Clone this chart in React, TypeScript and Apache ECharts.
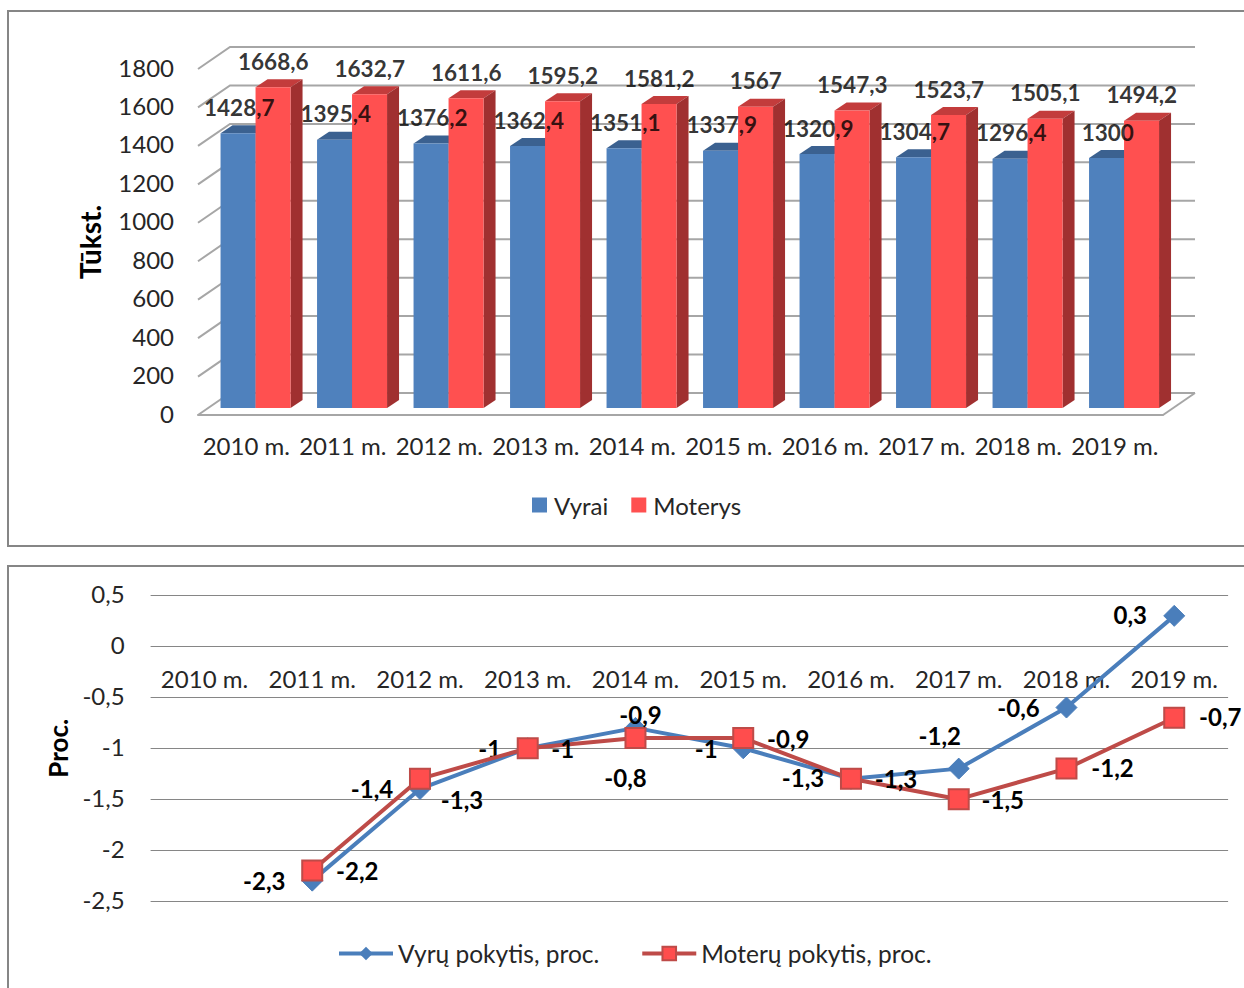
import React, { useEffect, useRef } from "react";
import * as echarts from "echarts";

const years = ["2010 m.", "2011 m.", "2012 m.", "2013 m.", "2014 m.", "2015 m.", "2016 m.", "2017 m.", "2018 m.", "2019 m."];
const vyrai = [1428.7, 1395.4, 1376.2, 1362.4, 1351.1, 1337.9, 1320.9, 1304.7, 1296.4, 1300];
const moterys = [1668.6, 1632.7, 1611.6, 1595.2, 1581.2, 1567, 1547.3, 1523.7, 1505.1, 1494.2];
const wallTicks = [0, 200, 400, 600, 800, 1000, 1200, 1400, 1600, 1800];
const vyruPokytis = [null, -2.3, -1.4, -1, -0.8, -1, -1.3, -1.2, -0.6, 0.3];
const moteruPokytis = [null, -2.2, -1.3, -1, -0.9, -0.9, -1.3, -1.5, -1.2, -0.7];

// label nudges for the lower chart, relative to each point
const vyruOffsets = [[0, 0], [-48, 0], [-48, 0], [-38, 0], [-10, 50], [-37, 0], [-48, -1], [-19, -33], [-48, 0], [-44, -1]];
const moteruOffsets = [[0, 0], [45, 0], [42, 21], [35, 0], [5, -24], [45, 0], [45, 0], [44, 0], [46, -1], [46, -1]];

const FONT = "Lato, Carlito, sans-serif";
const comma = (v: number) => String(v).replace(".", ",");
const DX = 32, DY = 22;          // wall depth
const BAR_W = 35, BX = 12, BY = 8; // bar width and depth
const SHIFT_X = 9.3, SHIFT_Y = 7;  // bars stand slightly behind the front plane
const GRID_C = "#a6a6a6";

function barRenderer(side: "left" | "right", front: string, top: string, right: string) {
  return (params: any, api: any) => {
    const p = api.coord([api.value(0), api.value(1)]);
    const base = api.coord([api.value(0), 0]);
    const x0 = p[0] + SHIFT_X + (side === "left" ? -BAR_W : 0);
    const x1 = x0 + BAR_W;
    const yT = p[1] - SHIFT_Y;
    const yB = base[1] - SHIFT_Y;
    return {
      type: "group",
      children: [
        { type: "polygon", shape: { points: [[x0, yT], [x0 + BX, yT - BY], [x1 + BX, yT - BY], [x1, yT]] }, style: { fill: top } },
        { type: "polygon", shape: { points: [[x1, yT], [x1 + BX, yT - BY], [x1 + BX, yB - BY], [x1, yB]] }, style: { fill: right } },
        { type: "rect", shape: { x: x0, y: yT, width: BAR_W, height: yB - yT }, style: { fill: front } },
      ],
    };
  };
}

export default function App() {
  const ref = useRef<HTMLDivElement>(null);
  useEffect(() => {
    const chart = echarts.init(ref.current!, null, { renderer: "svg" });
    const tick = { color: "#262626", fontFamily: FONT, fontSize: 24 };
    const dataLabel = { color: "#000", fontFamily: FONT, fontSize: 22.5, fontWeight: "bold" as const, textBorderWidth: 0 };
    const pointLabel = { color: "#000", fontFamily: FONT, fontSize: 24, fontWeight: "bold" as const, textBorderWidth: 0 };
    chart.setOption({
      animation: false,
      backgroundColor: "#fff",
      graphic: [
        { type: "rect", shape: { x: 8, y: 11, width: 1300, height: 535 }, style: { fill: "none", stroke: "#868686", lineWidth: 2 } },
        { type: "rect", shape: { x: 8, y: 566, width: 1300, height: 500 }, style: { fill: "none", stroke: "#868686", lineWidth: 2 } },
      ],
      legend: [
        {
          left: 532, top: 493, padding: 0, itemWidth: 15, itemHeight: 15, itemGap: 23, icon: "rect", selectedMode: false,
          data: ["Vyrai", "Moterys"],
          textStyle: { ...tick, padding: [0, 0, 2, 2] },
        },
        {
          left: 337, top: 941, padding: 0, itemWidth: 54, itemHeight: 17, itemGap: 41, selectedMode: false,
          data: ["Vyrų pokytis, proc.", "Moterų pokytis, proc."],
          lineStyle: { width: 4 },
          textStyle: { ...tick, fontSize: 24.5, padding: [0, 0, 2, 0] },
        },
      ],
      grid: [
        { left: 198, top: 69, width: 965, height: 346 },
        { left: 150.6, top: 595.5, width: 1077.5, height: 305.5 },
      ],
      xAxis: [
        {
          gridIndex: 0, type: "category", data: years,
          axisTick: { show: false },
          axisLine: { lineStyle: { color: GRID_C, width: 2 } },
          axisLabel: { ...tick, margin: 18, interval: 0 },
        },
        {
          gridIndex: 1, type: "category", data: years, offset: -257,
          axisTick: { show: false },
          axisLine: { show: false, onZero: false },
          axisLabel: { ...tick, margin: 22, interval: 0 },
        },
      ],
      yAxis: [
        {
          gridIndex: 0, type: "value", min: 0, max: 1800, interval: 200,
          name: "Tūkst.", nameLocation: "middle", nameGap: 94, nameRotate: 90,
          nameTextStyle: { color: "#000", fontFamily: FONT, fontSize: 28, fontWeight: "bold" },
          axisLine: { show: false }, axisTick: { show: false }, splitLine: { show: false },
          axisLabel: { ...tick, margin: 24, verticalAlign: "bottom", lineHeight: 4, formatter: (v: number) => String(v) },
        },
        {
          gridIndex: 1, type: "value", min: -2.5, max: 0.5, interval: 0.5,
          name: "Proc.", nameLocation: "middle", nameGap: 79, nameRotate: 90,
          nameTextStyle: { color: "#000", fontFamily: FONT, fontSize: 26, fontWeight: "bold" },
          axisLine: { show: false }, axisTick: { show: false },
          splitLine: { lineStyle: { color: "#868686", width: 1 } },
          axisLabel: { ...tick, margin: 26, verticalAlign: "bottom", lineHeight: 4, formatter: (v: number) => comma(v) },
        },
      ],
      series: [
        {
          type: "custom", name: "walls", xAxisIndex: 0, yAxisIndex: 0, z: 1, silent: true,
          data: wallTicks.map((t) => [0, t]),
          renderItem: (params: any, api: any) => {
            const cs = params.coordSys;
            const y = api.coord([0, api.value(1)])[1];
            const x0 = cs.x, x1 = cs.x + cs.width;
            const style = { fill: "none", stroke: GRID_C, lineWidth: 2 };
            const children: any[] = [
              { type: "polyline", shape: { points: [[x0, y], [x0 + DX, y - DY], [x1 + DX, y - DY]] }, style },
            ];
            if (api.value(1) === 0) {
              children.push({ type: "line", shape: { x1, y1: y, x2: x1 + DX, y2: y - DY }, style });
            }
            return { type: "group", children };
          },
        },
        {
          type: "custom", name: "Vyrai", xAxisIndex: 0, yAxisIndex: 0, z: 2, silent: true,
          itemStyle: { color: "#4f81bd" },
          data: vyrai.map((v, i) => [i, v]),
          renderItem: barRenderer("left", "#4f81bd", "#3b6190", "#3b6190"),
        },
        {
          type: "custom", name: "Moterys", xAxisIndex: 0, yAxisIndex: 0, z: 3, silent: true,
          itemStyle: { color: "#ff5050" },
          data: moterys.map((v, i) => [i, v]),
          renderItem: barRenderer("right", "#ff5050", "#c33c3c", "#a03030"),
        },
        {
          type: "scatter", name: "vyraiLabels", xAxisIndex: 0, yAxisIndex: 0, z: 10, symbolSize: 0, silent: true,
          data: vyrai.map((v, i) => [i, v]),
          label: { show: true, position: "inside", offset: [-7, -33], formatter: (p: any) => comma(p.value[1]), ...dataLabel },
        },
        {
          type: "scatter", name: "moterysLabels", xAxisIndex: 0, yAxisIndex: 0, z: 10, symbolSize: 0, silent: true,
          data: moterys.map((v, i) => [i, v]),
          label: { show: true, position: "inside", offset: [27, -33], formatter: (p: any) => comma(p.value[1]), ...dataLabel },
        },
        {
          type: "line", name: "Vyrų pokytis, proc.", xAxisIndex: 1, yAxisIndex: 1, z: 4, silent: true,
          symbol: "diamond", symbolSize: 21, showAllSymbol: true,
          lineStyle: { color: "#4a7ebb", width: 4 },
          itemStyle: { color: "#4a7ebb", borderColor: "#4a7ebb" },
          data: vyruPokytis.map((v, i) => ({ value: v, label: { offset: vyruOffsets[i] } })),
          label: { show: true, position: "inside", formatter: (p: any) => comma(p.value), ...pointLabel },
        },
        {
          type: "line", name: "Moterų pokytis, proc.", xAxisIndex: 1, yAxisIndex: 1, z: 5, silent: true,
          symbol: "rect", symbolSize: 20, showAllSymbol: true,
          lineStyle: { color: "#be4b48", width: 4 },
          itemStyle: { color: "#ff4d4d", borderColor: "#be4b48", borderWidth: 2 },
          data: moteruPokytis.map((v, i) => ({ value: v, label: { offset: moteruOffsets[i] } })),
          label: { show: true, position: "inside", formatter: (p: any) => comma(p.value), ...pointLabel },
        },
      ],
    });
    return () => chart.dispose();
  }, []);
  return <div ref={ref} style={{ position: "absolute", left: 0, top: 0, width: 1244, height: 988 }} />;
}
